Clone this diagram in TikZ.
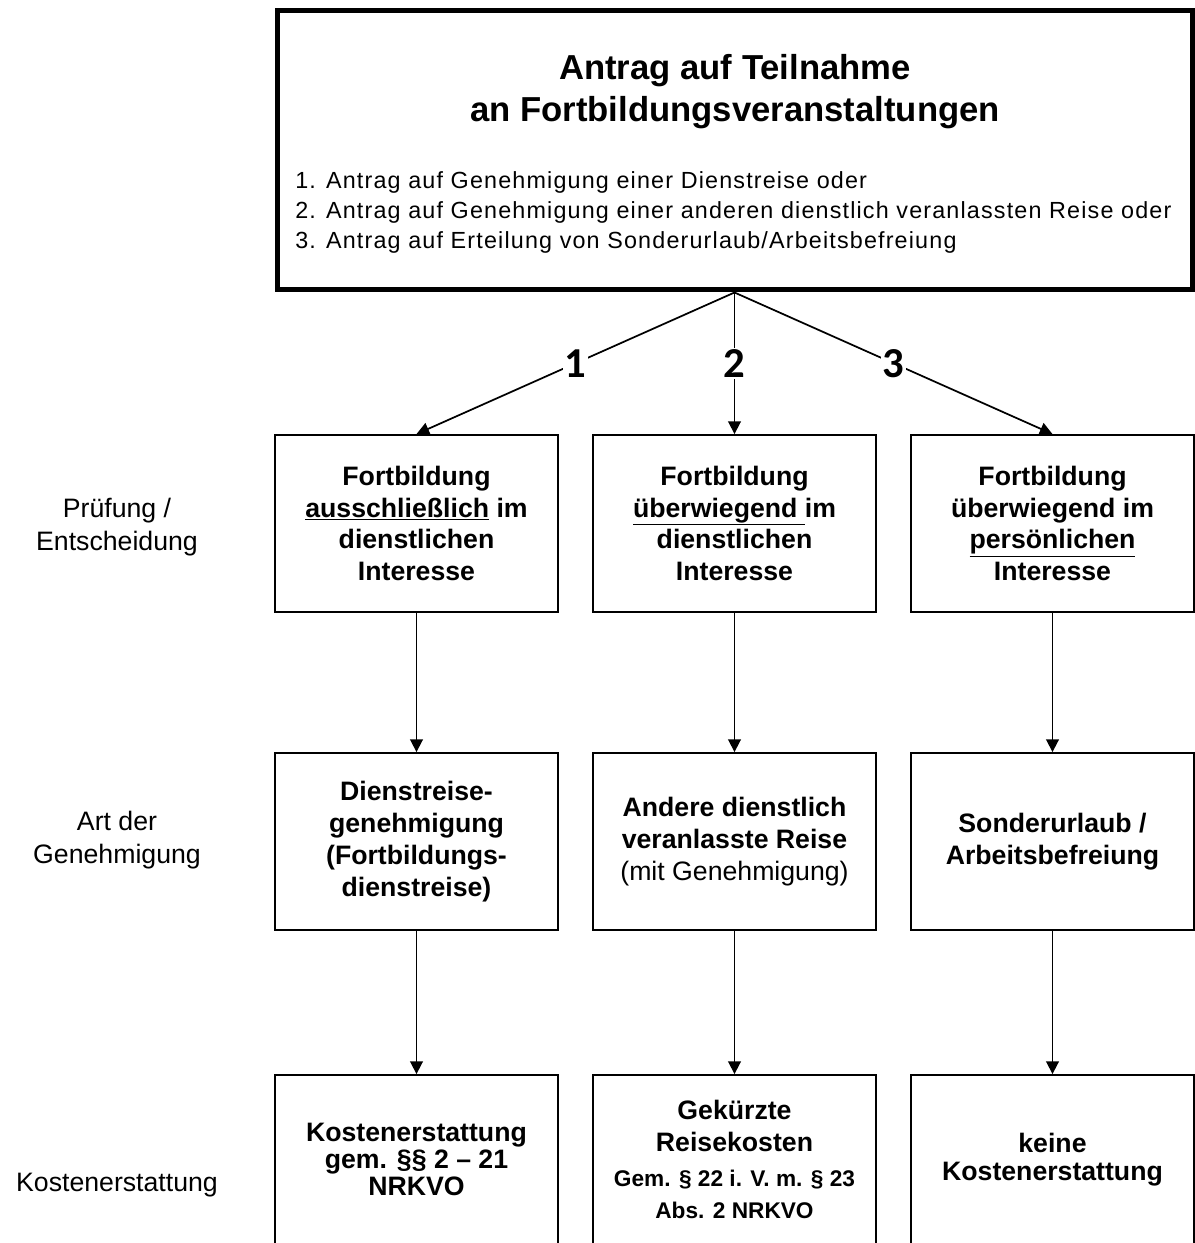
\documentclass[tikz,border=0pt]{standalone}
\usepackage{fontspec}
\setmainfont{Liberation Sans}
\newfontfamily\listfont[LetterSpace=5]{Liberation Sans}
\newfontfamily\zifferfont{Carlito}
\usetikzlibrary{arrows.meta}

\tikzset{
  kasten/.style={draw,line width=1.4pt,minimum width=212pt,minimum height=132.75pt,inner sep=0pt,align=center,font=\fontsize{20}{23.8}\selectfont\bfseries},
  kosten/.style={kasten,minimum height=126.75pt,font=\fontsize{20}{20.5}\selectfont\bfseries},
  pfeil/.style={-{Triangle[length=9.5pt,width=9.5pt]},line width=1.3pt},
  seite/.style={align=center,font=\fontsize{20}{25}\selectfont},
  ziffer/.style={fill=white,inner sep=1pt,font=\zifferfont\bfseries\fontsize{32}{32}\selectfont}
}

\begin{document}
\begin{tikzpicture}[x=0.75pt,y=-0.75pt]
        \useasboundingbox(0,0)rectangle(1195,1243);
        \clip(0,0)rectangle(1195,1243);

        \node[draw,line width=3.75pt,minimum width=686.25pt,minimum height=209.6pt,inner sep=0pt](antrag)at(734.5,150.25){};
        \node[align=center,font=\fontsize{26}{31.5}\selectfont\bfseries](titel)at(735,92){Antrag auf Teilnahme\\an Fortbildungsveranstaltungen};
        \node[anchor=west,align=left,inner sep=0pt,font=\listfont\fontsize{17.5}{22.5}\selectfont](liste)at(295,212){1. Antrag auf Genehmigung einer Dienstreise oder\\2. Antrag auf Genehmigung einer anderen dienstlich veranlassten Reise oder\\3. Antrag auf Erteilung von Sonderurlaub/Arbeitsbefreiung};

        \node[seite](pruefung)at(117,527){Prüfung /\\Entscheidung};
        \node[seite](art)at(117,840){Art der\\Genehmigung};
        \node[seite](kosten)at(117,1185){Kostenerstattung};

        \node[kasten](f1)at(416.5,523.5){Fortbildung\\\underline{ausschließlich} im\\dienstlichen\\Interesse};
        \node[kasten](f2)at(734.5,523.5){Fortbildung\\\underline{überwiegend\ }im\\dienstlichen\\Interesse};
        \node[kasten](f3)at(1052.5,523.5){Fortbildung\\überwiegend im\\\underline{persönlichen}\\Interesse};

        \node[kasten](g1)at(416.5,841.5){Dienstreise-\\genehmigung\\(Fortbildungs-\\dienstreise)};
        \node[kasten](g2)at(734.5,841.5){Andere dienstlich\\veranlasste Reise\\\mdseries(mit Genehmigung)};
        \node[kasten](g3)at(1052.5,841.5){Sonderurlaub /\\Arbeitsbefreiung};

        \node[kosten](k1)at(416.5,1159.5){Kostenerstattung\\gem. §§ 2 – 21\\NRKVO};
        \node[kosten,font=\fontsize{20}{23.8}\selectfont\bfseries](k2)at(734.5,1159.5){Gekürzte\\Reisekosten\\[3pt]\fontsize{17}{19}\selectfont Gem. § 22 i. V. m. § 23\\\fontsize{17}{19}\selectfont Abs. 2 NRKVO};
        \node[kosten](k3)at(1052.5,1159.5){keine\\Kostenerstattung};

        \draw[pfeil](antrag.south)--(f1.north)node[midway,ziffer](z1){1};
        \draw[pfeil](antrag.south)--(f2.north)node[midway,ziffer](z2){2};
        \draw[pfeil](antrag.south)--(f3.north)node[midway,ziffer](z3){3};

        \draw[pfeil](f1)--(g1);
        \draw[pfeil](f2)--(g2);
        \draw[pfeil](f3)--(g3);
        \draw[pfeil](g1)--(k1);
        \draw[pfeil](g2)--(k2);
        \draw[pfeil](g3)--(k3);
    \end{tikzpicture}
\end{document}
